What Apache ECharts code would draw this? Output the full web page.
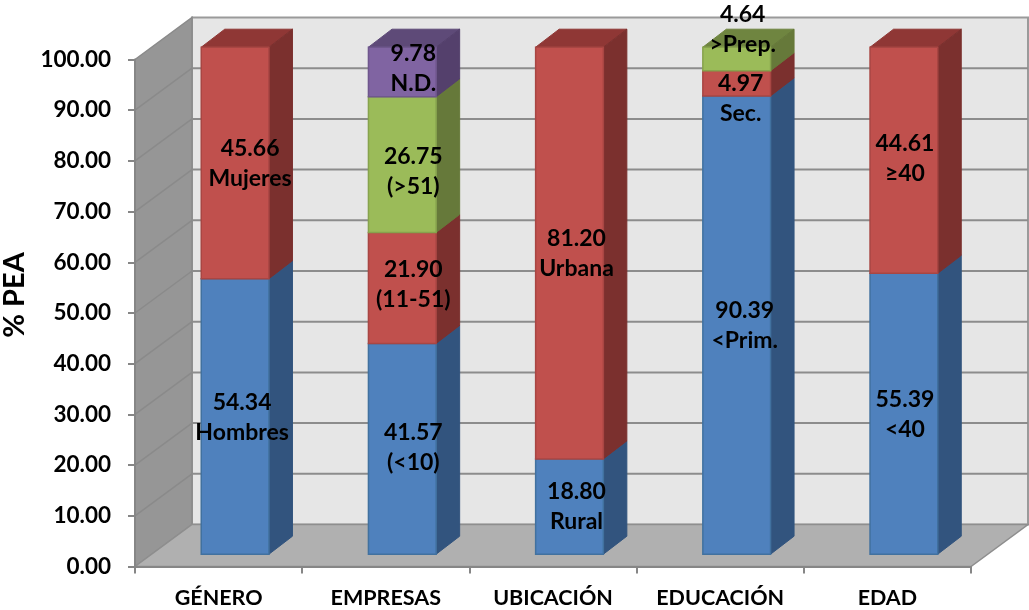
<!DOCTYPE html>
<html><head><meta charset="utf-8">
<style>html,body{margin:0;padding:0;background:#fff}#c{width:1029px;height:610px}</style>
<script src="https://cdn.jsdelivr.net/npm/echarts@6/dist/echarts.min.js"></script>
</head><body><div id="c"></div>
<script>
const categories = ['GÉNERO','EMPRESAS','UBICACIÓN','EDUCACIÓN','EDAD'];
const yTicks = [0,10,20,30,40,50,60,70,80,90,100];
const seriesBlue   = [54.34,41.57,18.80,90.39,55.39];
const seriesRed    = [45.66,21.90,81.20,4.97,44.61];
const seriesGreen  = [null,26.75,null,4.64,null];
const seriesPurple = [null,9.78,null,null,null];
const tagsBlue   = ['Hombres','(<10)','Rural','<Prim.','<40'];
const tagsRed    = ['Mujeres','(11-51)','Urbana','Sec.','≥40'];
const tagsGreen  = [null,'(>51)',null,'>Prep.',null];
const tagsPurple = [null,'N.D.',null,null,null];

// layout (hand-placed labels in the original)
const nudgeBlue   = [[7,1],[11,-1.5],[7,0],[8,1],[1,1]];
const nudgeRed    = [[15,1],[11,-3],[7,1],[4,15.4],[1,-1.5]];
const nudgeGreen  = [null,[11,7],null,[6,-29],null];
const nudgePurple = [null,[11,-3],null,null,null];
const WALL = {dx:57,dy:-42}, BAR = {dx:16.5,dy:-12.3,depthX:23.5,depthY:-18,ratio:0.405};
const FONT = 'Lato';
const palette = [
  {front:'#4F81BD',side:'#32547E',top:'#3A5F8C',edge:'#41719f'},
  {front:'#C0504D',side:'#7B302E',top:'#8F3735',edge:'#a84643'},
  {front:'#9BBB59',side:'#66793A',top:'#6F8540',edge:'#87a34d'},
  {front:'#8064A2',side:'#54406C',top:'#5E4A78',edge:'#6f578d'}
];
const stacks = [
 {v:seriesBlue,t:tagsBlue,n:nudgeBlue},
 {v:seriesRed,t:tagsRed,n:nudgeRed},
 {v:seriesGreen,t:tagsGreen,n:nudgeGreen},
 {v:seriesPurple,t:tagsPurple,n:nudgePurple}
];
const cum = categories.map(()=>0);
const barSeries = [], labelData = [];
stacks.forEach((s,si)=>{
  const data=[];
  s.v.forEach((val,i)=>{
    if(val==null) return;
    data.push([i,cum[i],cum[i]+val]);
    labelData.push([i,cum[i],cum[i]+val,val.toFixed(2)+'\n'+s.t[i],s.n[i][0],s.n[i][1]]);
    cum[i]+=val;
  });
  const col=palette[si];
  barSeries.push({
    type:'custom',coordinateSystem:'cartesian2d',z:5,silent:true,
    encode:{x:0,y:[1,2]},data,
    renderItem(p,api){
      const i=api.value(0),w=api.size([1,0])[0]*BAR.ratio;
      const cx=api.coord([i,0])[0]+BAR.dx;
      const y0=api.coord([i,api.value(1)])[1]+BAR.dy;
      const y1=api.coord([i,api.value(2)])[1]+BAR.dy;
      const l=cx-w/2,r=cx+w/2,dx=BAR.depthX,dy=BAR.depthY;
      return {type:'group',children:[
        {type:'polygon',shape:{points:[[l,y1],[r,y1],[r+dx,y1+dy],[l+dx,y1+dy]]},style:{fill:col.top,stroke:col.top,lineWidth:1}},
        {type:'polygon',shape:{points:[[r,y0],[r+dx,y0+dy],[r+dx,y1+dy],[r,y1]]},style:{fill:col.side,stroke:col.side,lineWidth:1}},
        {type:'rect',shape:{x:l,y:y1,width:w,height:y0-y1},style:{fill:col.front,stroke:col.edge,lineWidth:1.5}}
      ]};
    }
  });
});

const option = {
  animation:false,backgroundColor:'#fff',
  grid:{left:135,right:58,top:59.5,bottom:43.5,containLabel:false,outerBoundsMode:'none'},
  xAxis:{type:'category',data:categories,boundaryGap:true,
    axisLine:{show:true,lineStyle:{color:'#868686',width:2}},
    axisTick:{show:true,length:7,alignWithLabel:false,lineStyle:{color:'#868686',width:2}},
    axisLabel:{color:'#000',fontFamily:FONT,fontWeight:'bold',fontSize:21.5,margin:21,interval:0},
    splitLine:{show:false},z:6},
  yAxis:{type:'value',min:0,max:100,interval:10,
    name:'% PEA',nameLocation:'middle',nameRotate:90,nameGap:105,
    nameTextStyle:{color:'#000',fontFamily:FONT,fontWeight:'bold',fontSize:29,padding:[0,0,0,36]},
    axisLine:{show:true,lineStyle:{color:'#868686',width:2}},
    axisTick:{show:true,length:7,lineStyle:{color:'#868686',width:2}},
    axisLabel:{color:'#000',fontFamily:FONT,fontWeight:'bold',fontSize:22.5,margin:24,padding:[3,0,0,0],formatter:v=>v.toFixed(2)},
    splitLine:{show:false},z:6},
  series:[
    {type:'custom',coordinateSystem:'cartesian2d',z:1,silent:true,data:[[0,0]],encode:{x:0,y:1},
     renderItem(p,api){
       const g=p.coordSys,L=g.x,R=g.x+g.width,T=g.y,B=g.y+g.height,dx=WALL.dx,dy=WALL.dy;
       return {type:'group',children:[
         {type:'polygon',shape:{points:[[L+dx,T+dy],[R+dx,T+dy],[R+dx,B+dy],[L+dx,B+dy]]},style:{fill:'#E6E6E6',stroke:'#9a9a9a',lineWidth:2}},
         {type:'polygon',shape:{points:[[L,T],[L+dx,T+dy],[L+dx,B+dy],[L,B]]},style:{fill:'#969696',stroke:'#8a8a8a',lineWidth:1.5}},
         {type:'polygon',shape:{points:[[L,B],[L+dx,B+dy],[R+dx,B+dy],[R,B]]},style:{fill:'#B0B0B0',stroke:'#8e8e8e',lineWidth:1.5}}
       ]};
     }},
    {type:'custom',coordinateSystem:'cartesian2d',z:2,silent:true,
     data:yTicks.slice(1,-1).map(v=>[0,v]),encode:{x:0,y:1},
     renderItem(p,api){
       const g=p.coordSys,y=api.coord([0,api.value(1)])[1],L=g.x,R=g.x+g.width,dx=WALL.dx,dy=WALL.dy;
       return {type:'group',children:[
         {type:'line',shape:{x1:L,y1:y,x2:L+dx,y2:y+dy},style:{stroke:'#8a8a8a',lineWidth:1.5}},
         {type:'line',shape:{x1:L+dx,y1:y+dy,x2:R+dx,y2:y+dy},style:{stroke:'#8c8c8c',lineWidth:2}}
       ]};
     }},
    ...barSeries,
    {type:'custom',coordinateSystem:'cartesian2d',z:10,silent:true,data:labelData,
     encode:{x:0,y:[1,2]},
     renderItem(p,api){
       const d=labelData[p.dataIndex];
       const cx=api.coord([d[0],0])[0]+BAR.dx+d[4];
       const ym=(api.coord([d[0],d[1]])[1]+api.coord([d[0],d[2]])[1])/2+BAR.dy+d[5];
       return {type:'text',style:{x:cx,y:ym,text:d[3],align:'center',verticalAlign:'middle',
         fill:'#000',font:'bold 23px '+FONT,lineHeight:30}};
     }}
  ]
};
echarts.init(document.getElementById('c'),null,{renderer:'canvas'}).setOption(option);
</script></body></html>
